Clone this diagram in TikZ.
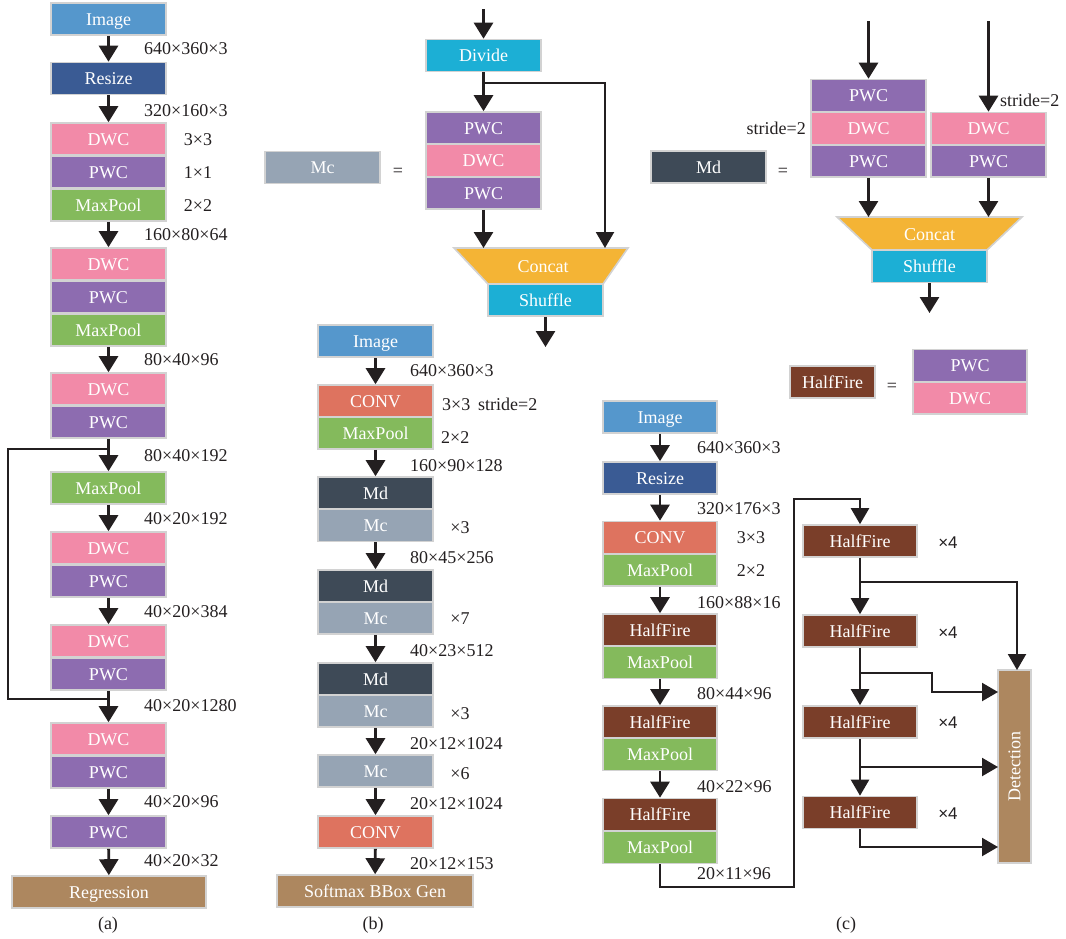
\documentclass[tikz,border=0pt]{standalone}
\usepackage{fontspec}
\setmainfont{Liberation Serif}
\newfontfamily\sansfam{Liberation Sans}
\usetikzlibrary{arrows.meta}
\definecolor{imgblue}{HTML}{5597CC}
\definecolor{resizeblue}{HTML}{3A5B94}
\definecolor{dwcpink}{HTML}{F28AA8}
\definecolor{pwcpurple}{HTML}{8D6CB0}
\definecolor{poolgreen}{HTML}{84BA5C}
\definecolor{brownbox}{HTML}{AD875F}
\definecolor{mcgray}{HTML}{96A4B4}
\definecolor{mddark}{HTML}{3E4A57}
\definecolor{convred}{HTML}{DE735F}
\definecolor{cyanbox}{HTML}{1CAFD5}
\definecolor{concatorange}{HTML}{F4B435}
\definecolor{hfbrown}{HTML}{7A3E29}
\definecolor{bordergray}{HTML}{D2D2D2}
\definecolor{ink}{HTML}{231F20}
\begin{document}
\begin{tikzpicture}[x=1pt,y=-1pt,
  box/.style={draw=bordergray, line width=1.6pt, minimum width=115pt, minimum height=32pt,
    inner sep=0pt, text=white, font=\fontsize{18}{20}\selectfont, text height=12pt, text depth=0pt},
  lab/.style={text=ink, font=\fontsize{18}{20}\selectfont, inner sep=0pt, text height=12pt, text depth=0pt},
  dim/.style={lab, anchor=west},
  times/.style={text=ink, font=\sansfam\fontsize{17}{19}\selectfont, inner sep=0pt, text height=12pt, text depth=0pt},
  arr/.style={draw=ink, line width=2.8pt, -{Triangle[width=19pt,length=16pt]}},
  conn/.style={draw=ink, line width=2.2pt},
  carr/.style={conn, -{Triangle[width=18pt,length=16pt]}}
]
\useasboundingbox (0,0) rectangle (1066,938);

% ---------------- (a) ----------------
\node[box, fill=imgblue] (aimg) at (108.5,19) {Image};
\node[box, fill=resizeblue] (ares) at (108.5,78.5) {Resize};
\node[box, fill=dwcpink] (adwc1) at (108.5,139) {DWC};
\node[box, fill=pwcpurple] (apwc1) at (108.5,172) {PWC};
\node[box, fill=poolgreen] (apool1) at (108.5,205) {MaxPool};
\node[box, fill=dwcpink] (adwc2) at (108.5,264) {DWC};
\node[box, fill=pwcpurple] (apwc2) at (108.5,297) {PWC};
\node[box, fill=poolgreen] (apool2) at (108.5,330) {MaxPool};
\node[box, fill=dwcpink] (adwc3) at (108.5,389) {DWC};
\node[box, fill=pwcpurple] (apwc3) at (108.5,422) {PWC};
\node[box, fill=poolgreen] (apool3) at (108.5,488) {MaxPool};
\node[box, fill=dwcpink] (adwc4) at (108.5,548) {DWC};
\node[box, fill=pwcpurple] (apwc4) at (108.5,581) {PWC};
\node[box, fill=dwcpink] (adwc5) at (108.5,641) {DWC};
\node[box, fill=pwcpurple] (apwc5) at (108.5,674) {PWC};
\node[box, fill=dwcpink] (adwc6) at (108.5,739) {DWC};
\node[box, fill=pwcpurple] (apwc6) at (108.5,772) {PWC};
\node[box, fill=pwcpurple] (apwc7) at (108.5,832) {PWC};
\node[box, fill=brownbox, minimum width=194pt] (areg) at (109,892) {Regression};

\node[dim] (al1) at (144,48) {640×360×3};
\node[dim] (al2) at (144,110) {320×160×3};
\node[lab] (ak1) at (198,139) {3×3};
\node[lab] (ak2) at (198,172) {1×1};
\node[lab] (ak3) at (198,205) {2×2};
\node[dim] (al3) at (144,234) {160×80×64};
\node[dim] (al4) at (144,359) {80×40×96};
\node[dim] (al5) at (144,455) {80×40×192};
\node[dim] (al6) at (144,518) {40×20×192};
\node[dim] (al7) at (144,611) {40×20×384};
\node[dim] (al8) at (144,705) {40×20×1280};
\node[dim] (al9) at (144,801) {40×20×96};
\node[dim] (al10) at (144,860) {40×20×32};
\node[lab] (acap) at (108,923) {(a)};

\draw[arr] (aimg) -- (ares);
\draw[arr] (ares) -- (adwc1);
\draw[arr] (apool1) -- (adwc2);
\draw[arr] (apool2) -- (adwc3);
\draw[arr] (apwc3) -- (apool3);
\draw[arr] (apool3) -- (adwc4);
\draw[arr] (apwc4) -- (adwc5);
\draw[arr] (apwc5) -- (adwc6);
\draw[arr] (apwc6) -- (apwc7);
\draw[arr] (apwc7) -- (areg);
\coordinate (askipA) at (108.5,449);
\coordinate (askipL) at (8,449);
\coordinate (askipB) at (108.5,699);
\draw[conn] (askipA) -- (askipL) |- (askipB);

% ---------------- Mc legend ----------------
\node[box, fill=mcgray] (mcleg) at (322.5,167.5) {Mc};
\node[lab] (mceq) at (398,170) {=};
\coordinate (mcin) at (483.5,9);
\node[box, fill=cyanbox] (mcdiv) at (483.5,55.5) {Divide};
\node[box, fill=pwcpurple] (mcp1) at (483.5,128) {PWC};
\node[box, fill=dwcpink] (mcd1) at (483.5,160.5) {DWC};
\node[box, fill=pwcpurple] (mcp2) at (483.5,193) {PWC};
\draw[bordergray, line width=1.6pt, fill=concatorange] (454,248) -- (628,248) -- (603,284) -- (488,284) -- cycle;
\node[lab, text=white] (mccat) at (543,266) {Concat};
\node[box, fill=cyanbox] (mcshuf) at (545.5,300) {Shuffle};
\coordinate (mccA) at (483.5,248);
\coordinate (mccB) at (605,248);
\coordinate (mcbr) at (483.5,83);
\coordinate (mcbrR) at (605,83);
\coordinate (mcout) at (545.5,347);
\draw[arr] (mcin) -- (mcdiv);
\draw[arr] (mcdiv) -- (mcp1);
\draw[arr] (mcp2) -- (mccA);
\draw[conn, -{Triangle[width=18pt,length=16pt]}] (mcbr) -- (mcbrR) -- (mccB);
\draw[arr] (mcshuf) -- (mcout);

% ---------------- Md legend ----------------
\node[box, fill=mddark] (mdleg) at (708.5,167) {Md};
\node[lab] (mdeq) at (783,170) {=};
\node[box, fill=pwcpurple] (mdp1) at (868.5,95.5) {PWC};
\node[box, fill=dwcpink] (mdd1) at (868.5,128.5) {DWC};
\node[box, fill=pwcpurple] (mdp2) at (868.5,161) {PWC};
\node[box, fill=dwcpink] (mdd2) at (988.5,128.5) {DWC};
\node[box, fill=pwcpurple] (mdp3) at (988.5,161) {PWC};
\node[lab, anchor=east] (mds1) at (806,128) {stride=2};
\node[lab, anchor=west] (mds2) at (1000,100) {stride=2};
\coordinate (mdinL) at (868.5,21);
\coordinate (mdinR) at (988.5,21);
\draw[bordergray, line width=1.6pt, fill=concatorange] (837,217) -- (1022,217) -- (987,250) -- (872,250) -- cycle;
\node[lab, text=white] (mdcat) at (929.5,234) {Concat};
\node[box, fill=cyanbox] (mdshuf) at (929.5,266.5) {Shuffle};
\coordinate (mdcA) at (868.5,217);
\coordinate (mdcB) at (988.5,217);
\coordinate (mdout) at (929.5,313);
\draw[arr] (mdinL) -- (mdp1);
\draw[arr] (mdinR) -- (mdd2);
\draw[arr] (mdp2) -- (mdcA);
\draw[arr] (mdp3) -- (mdcB);
\draw[arr] (mdshuf) -- (mdout);

% ---------------- (b) ----------------
\node[box, fill=imgblue] (bimg) at (375.5,341) {Image};
\node[box, fill=convred] (bconv1) at (375.5,401) {CONV};
\node[box, fill=poolgreen] (bpool) at (375.5,433) {MaxPool};
\node[box, fill=mddark] (bmd1) at (375.5,493) {Md};
\node[box, fill=mcgray] (bmc1) at (375.5,525.5) {Mc};
\node[box, fill=mddark] (bmd2) at (375.5,586) {Md};
\node[box, fill=mcgray] (bmc2) at (375.5,618) {Mc};
\node[box, fill=mddark] (bmd3) at (375.5,679) {Md};
\node[box, fill=mcgray] (bmc3) at (375.5,711) {Mc};
\node[box, fill=mcgray] (bmc4) at (375.5,771) {Mc};
\node[box, fill=convred] (bconv2) at (375.5,832) {CONV};
\node[box, fill=brownbox, minimum width=196pt] (bsoft) at (375,891) {Softmax BBox Gen};

\node[dim] (bl1) at (410,370) {640×360×3};
\node[dim] (bk1) at (442,404) {3×3};
\node[dim] (bs1) at (478,404) {stride=2};
\node[dim] (bk2) at (441,437) {2×2};
\node[dim] (bl2) at (410,465) {160×90×128};
\node[lab] (bx1) at (460,527) {×3};
\node[dim] (bl3) at (410,557) {80×45×256};
\node[lab] (bx2) at (460,618) {×7};
\node[dim] (bl4) at (410,650) {40×23×512};
\node[lab] (bx3) at (460,713) {×3};
\node[dim] (bl5) at (410,743) {20×12×1024};
\node[lab] (bx4) at (460,773) {×6};
\node[dim] (bl6) at (410,803) {20×12×1024};
\node[dim] (bl7) at (410,863) {20×12×153};
\node[lab] (bcap) at (373,923) {(b)};

\draw[arr] (bimg) -- (bconv1);
\draw[arr] (bpool) -- (bmd1);
\draw[arr] (bmc1) -- (bmd2);
\draw[arr] (bmc2) -- (bmd3);
\draw[arr] (bmc3) -- (bmc4);
\draw[arr] (bmc4) -- (bconv2);
\draw[arr] (bconv2) -- (bsoft);

% ---------------- HalfFire legend ----------------
\node[box, fill=hfbrown, minimum width=85pt] (hfleg) at (832.5,382) {HalfFire};
\node[lab] (hfeq) at (892,385) {=};
\node[box, fill=pwcpurple, minimum width=114pt] (hfp) at (970,365.5) {PWC};
\node[box, fill=dwcpink, minimum width=114pt] (hfd) at (970,398) {DWC};

% ---------------- (c) ----------------
\node[box, fill=imgblue, minimum width=114pt] (cimg) at (660,417) {Image};
\node[box, fill=resizeblue, minimum width=114pt] (cres) at (660,478) {Resize};
\node[box, fill=convred, minimum width=114pt] (cconv) at (660,537.5) {CONV};
\node[box, fill=poolgreen, minimum width=114pt] (cpool0) at (660,570) {MaxPool};
\node[box, fill=hfbrown, minimum width=114pt] (chfa) at (660,630) {HalfFire};
\node[box, fill=poolgreen, minimum width=114pt] (cpool1) at (660,662.5) {MaxPool};
\node[box, fill=hfbrown, minimum width=114pt] (chfb) at (660,722) {HalfFire};
\node[box, fill=poolgreen, minimum width=114pt] (cpool2) at (660,754.5) {MaxPool};
\node[box, fill=hfbrown, minimum width=114pt] (chfc) at (660,814.5) {HalfFire};
\node[box, fill=poolgreen, minimum width=114pt] (cpool3) at (660,847.5) {MaxPool};

\node[dim] (cl1) at (697,447) {640×360×3};
\node[dim] (cl2) at (697,508) {320×176×3};
\node[lab] (ck1) at (751,537) {3×3};
\node[lab] (ck2) at (751,570) {2×2};
\node[dim] (cl3) at (697,602) {160×88×16};
\node[dim] (cl4) at (697,693) {80×44×96};
\node[dim] (cl5) at (697,786) {40×22×96};
\node[dim] (cl6) at (697,873) {20×11×96};
\node[lab] (ccap) at (846,923) {(c)};

\draw[arr] (cimg) -- (cres);
\draw[arr] (cres) -- (cconv);
\draw[arr] (cpool0) -- (chfa);
\draw[arr] (cpool1) -- (chfb);
\draw[arr] (cpool2) -- (chfc);

\node[box, fill=hfbrown, minimum width=114pt] (chf1) at (860,541) {HalfFire};
\node[box, fill=hfbrown, minimum width=114pt] (chf2) at (860,631) {HalfFire};
\node[box, fill=hfbrown, minimum width=114pt] (chf3) at (860,722) {HalfFire};
\node[box, fill=hfbrown, minimum width=114pt] (chf4) at (860,812.5) {HalfFire};
\node[times] (cx1) at (948,542) {×4};
\node[times] (cx2) at (948,632) {×4};
\node[times] (cx3) at (948,722) {×4};
\node[times] (cx4) at (948,813) {×4};
\node[box, fill=brownbox, minimum width=33pt, minimum height=193pt, text height={}, text depth={}] (cdet) at (1014.5,766.5) {\rotatebox{90}{Detection}};

\coordinate (cbot) at (794,887);
\coordinate (ctop) at (860,499);
\draw[carr] (cpool3.south) |- (cbot) |- (ctop) -- (chf1.north);
\draw[carr] (chf1) -- (chf2);
\draw[carr] (chf2) -- (chf3);
\draw[carr] (chf3) -- (chf4);
\coordinate (cb1) at (860,582);
\coordinate (cd1) at (1017,670);
\draw[carr] (cb1) -| (cd1);
\coordinate (cb2) at (860,673);
\coordinate (cb2k) at (932,673);
\coordinate (cd2) at (998,692);
\draw[carr] (cb2) -- (cb2k) |- (cd2);
\coordinate (cb3) at (860,767);
\coordinate (cd3) at (998,767);
\draw[carr] (cb3) -- (cd3);
\coordinate (cd4) at (998,847);
\draw[carr] (chf4.south) |- (cd4);
\end{tikzpicture}
\end{document}
